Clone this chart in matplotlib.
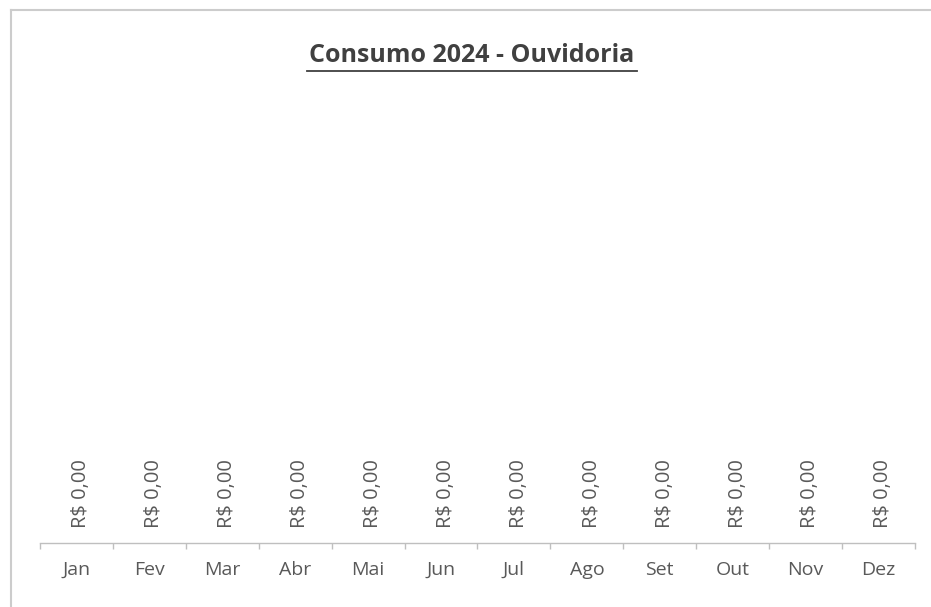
import matplotlib
matplotlib.use('Agg')
import matplotlib.pyplot as plt
from matplotlib.lines import Line2D

# Data
months = ["Jan", "Fev", "Mar", "Abr", "Mai", "Jun", "Jul", "Ago", "Set", "Out", "Nov", "Dez"]
consumo = [0, 0, 0, 0, 0, 0, 0, 0, 0, 0, 0, 0]
title = "Consumo 2024 - Ouvidoria"

plt.rcParams['font.family'] = ['Open Sans', 'DejaVu Sans']

W, H = 931, 607
fig = plt.figure(figsize=(W / 100, H / 100), dpi=100)

# chart frame (left and top border of the chart area)
fig.add_artist(Line2D([11 / W, 11 / W], [0, 1 - 10 / H], color='#cccccc', lw=1.5))
fig.add_artist(Line2D([11 / W, 1], [1 - 10 / H, 1 - 10 / H], color='#cccccc', lw=1.5))

ax = fig.add_axes([40 / W, (H - 543) / H, (915 - 40) / W, (543 - 100) / H])
x = list(range(len(months)))
ax.bar(x, consumo, width=0.6, color='#4472c4')
ax.set_xlim(-0.5, len(months) - 0.5)
ax.set_ylim(0, 1)

for xi, v in zip(x, consumo):
    lbl = "R$ " + f"{v:,.2f}".replace(",", "X").replace(".", ",").replace("X", ".")
    ax.annotate(lbl, (xi, v), xytext=(3.5, 11), textcoords='offset points',
                rotation=90, ha='center', va='bottom', fontsize=14.5, color='#595959')

for s in ['left', 'right', 'top']:
    ax.spines[s].set_visible(False)
ax.spines['bottom'].set_color('#bfbfbf')
ax.spines['bottom'].set_linewidth(1.0)
ax.set_yticks([])
ax.set_xticks([i - 0.5 for i in range(len(months) + 1)], minor=False)
ax.set_xticklabels([])
ax.set_xticks(x, minor=True)
ax.set_xticklabels(months, minor=True, fontsize=14, color='#595959')
ax.tick_params(axis='x', which='major', length=4, color='#bfbfbf', width=1)
ax.tick_params(axis='x', which='minor', length=0, pad=13)

fig.text(472 / W, 1 - 56 / H, title, ha='center', va='center', fontsize=18,
         fontweight='bold', color='#404040')
fig.add_artist(Line2D([307 / W, 637 / W], [1 - 71 / H, 1 - 71 / H], color='#404040', lw=1.3))

fig.savefig('out.png', dpi=100)
